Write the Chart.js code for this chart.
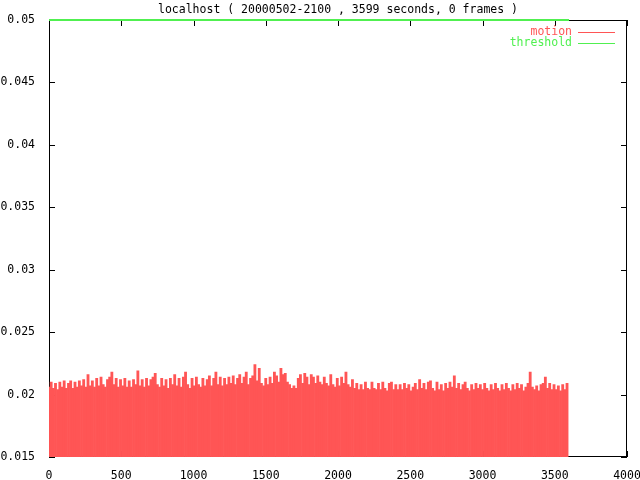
<!DOCTYPE html>
<html>
<head>
<meta charset="utf-8">
<script src="https://cdn.jsdelivr.net/npm/chart.js@4/dist/chart.umd.min.js"></script>
<style>
  html, body { margin: 0; padding: 0; background: #fff; }
  #wrap { width: 640px; height: 480px; }
</style>
</head>
<body>
<div id="wrap"><canvas id="motionChart" width="640" height="480"></canvas></div>
<script>
// one sample every 15 seconds
const STEP = 15;
const motion = [
  // 0 - 600
  0.0206, 0.0210, 0.0205, 0.0209, 0.0204, 0.0210, 0.0206, 0.0211, 0.0205, 0.0209,
  0.0211, 0.0205, 0.0210, 0.0206, 0.0211, 0.0207, 0.0212, 0.0206, 0.0216, 0.0207,
  0.0211, 0.0206, 0.0213, 0.0207, 0.0214, 0.0208, 0.0206, 0.0212, 0.0214, 0.0218,
  0.0208, 0.0213, 0.0206, 0.0212, 0.0207, 0.0213, 0.0206, 0.0211, 0.0206, 0.0212,
  0.0208,
  // 615 - 1200
  0.0219, 0.0207, 0.0212, 0.0206, 0.0213, 0.0207, 0.0212, 0.0214, 0.0217, 0.0208,
  0.0206, 0.0213, 0.0207, 0.0212, 0.0205, 0.0213, 0.0208, 0.0216, 0.0207, 0.0213,
  0.0206, 0.0214, 0.0218, 0.0208, 0.0205, 0.0213, 0.0207, 0.0214, 0.0208, 0.0206,
  0.0213, 0.0207, 0.0212, 0.0215, 0.0207, 0.0213, 0.0218, 0.0208, 0.0214, 0.0207,
  // 1215 - 1815
  0.0213, 0.0208, 0.0214, 0.0209, 0.0215, 0.0208, 0.0213, 0.0216, 0.0209, 0.0214,
  0.0218, 0.0208, 0.0213, 0.0215, 0.0224, 0.0211, 0.0221, 0.0209, 0.0207, 0.0213,
  0.0208, 0.0214, 0.0209, 0.0218, 0.0215, 0.0210, 0.0221, 0.0216, 0.0217, 0.0210,
  0.0208, 0.0205, 0.0207, 0.0205, 0.0213, 0.0216, 0.0209, 0.0217, 0.0214, 0.0208,
  0.0216,
  // 1830 - 2415
  0.0214, 0.0209, 0.0215, 0.0210, 0.0208, 0.0214, 0.0209, 0.0207, 0.0216, 0.0208,
  0.0206, 0.0213, 0.0207, 0.0214, 0.0209, 0.0218, 0.0208, 0.0206, 0.0212, 0.0205,
  0.0209, 0.0204, 0.0208, 0.0204, 0.0210, 0.0205, 0.0204, 0.0210, 0.0205, 0.0204,
  0.0209, 0.0204, 0.0210, 0.0205, 0.0203, 0.0209, 0.0210, 0.0204, 0.0208, 0.0204,
  // 2430 - 3015
  0.0208, 0.0204, 0.0209, 0.0205, 0.0208, 0.0203, 0.0206, 0.0209, 0.0204, 0.0212,
  0.0205, 0.0209, 0.0204, 0.0210, 0.0211, 0.0205, 0.0203, 0.0210, 0.0204, 0.0208,
  0.0203, 0.0209, 0.0205, 0.0210, 0.0206, 0.0215, 0.0205, 0.0209, 0.0204, 0.0208,
  0.0210, 0.0205, 0.0203, 0.0208, 0.0204, 0.0209, 0.0205, 0.0208, 0.0204, 0.0209,
  // 3030 - 3585
  0.0205, 0.0203, 0.0208, 0.0204, 0.0209, 0.0205, 0.0203, 0.0208, 0.0204, 0.0209,
  0.0205, 0.0203, 0.0208, 0.0204, 0.0209, 0.0205, 0.0208, 0.0203, 0.0206, 0.0209,
  0.0218, 0.0206, 0.0204, 0.0207, 0.0203, 0.0208, 0.0209, 0.0214, 0.0205, 0.0209,
  0.0204, 0.0208, 0.0204, 0.0207, 0.0203, 0.0208, 0.0204, 0.0209
];
const thresholdTimes = [0, 3599];
const threshold = [0.05, 0.05];

const xTicks = [0, 500, 1000, 1500, 2000, 2500, 3000, 3500, 4000];
const yTicks = [0.015, 0.02, 0.025, 0.03, 0.035, 0.04, 0.045, 0.05];
const title = 'localhost ( 20000502-2100 , 3599 seconds, 0 frames )';

const RED = 'rgb(255,85,85)';
const GREEN = 'rgb(80,240,80)';
const FONT = { family: "'DejaVu Sans Mono', monospace", size: 11.5 };
const FONT_CSS = "11.5px 'DejaVu Sans Mono', monospace";

// gnuplot style frame with inward ticks on all sides
const framePlugin = {
  id: 'frame',
  beforeDatasetsDraw(chart) {
    const { ctx, chartArea: a, scales } = chart;
    ctx.save();
    ctx.strokeStyle = '#000';
    ctx.lineWidth = 1;
    ctx.strokeRect(a.left + 0.5, a.top + 0.5, a.right - a.left - 1, a.bottom - a.top - 1);
    ctx.beginPath();
    xTicks.forEach(v => {
      const px = Math.round(scales.x.getPixelForValue(v)) + 0.5;
      ctx.moveTo(px, a.bottom); ctx.lineTo(px, a.bottom - 6);
      ctx.moveTo(px, a.top); ctx.lineTo(px, a.top + 6);
    });
    yTicks.forEach(v => {
      const py = Math.round(scales.y.getPixelForValue(v)) + 0.5;
      ctx.moveTo(a.left, py); ctx.lineTo(a.left + 6, py);
      ctx.moveTo(a.right, py); ctx.lineTo(a.right - 6, py);
    });
    ctx.stroke();
    ctx.restore();
  },
  afterDraw(chart) {
    const { ctx, chartArea: a } = chart;
    ctx.save();
    ctx.font = FONT_CSS;
    ctx.textBaseline = 'middle';
    // title centred over the plot area
    ctx.fillStyle = '#000';
    ctx.textAlign = 'center';
    ctx.fillText(title, (a.left + a.right) / 2, 10);
    // key in the top right corner: label, then a line sample
    ctx.textAlign = 'right';
    chart.data.datasets.forEach((ds, i) => {
      const y = 32 + i * 11;
      ctx.fillStyle = ds.borderColor;
      ctx.fillText(ds.label, 572, y);
      ctx.strokeStyle = ds.borderColor;
      ctx.lineWidth = 1;
      ctx.beginPath();
      ctx.moveTo(578, y + 0.5); ctx.lineTo(615, y + 0.5);
      ctx.stroke();
    });
    ctx.restore();
  }
};

new Chart(document.getElementById('motionChart'), {
  type: 'bar',
  data: {
    datasets: [
      {
        label: 'motion',
        data: motion.map((v, i) => ({ x: i * STEP, y: v })),
        backgroundColor: RED,
        borderColor: RED,
        borderWidth: 0,
        barPercentage: 1,
        categoryPercentage: 1,
        order: 2
      },
      {
        type: 'line',
        label: 'threshold',
        data: thresholdTimes.map((t, i) => ({ x: t, y: threshold[i] })),
        borderColor: GREEN,
        borderWidth: 2,
        pointRadius: 0,
        clip: false,
        order: 1
      }
    ]
  },
  options: {
    responsive: false,
    animation: false,
    layout: { padding: { left: 0, right: 13, top: 20, bottom: 0 } },
    plugins: {
      legend: { display: false },
      tooltip: { enabled: false },
      title: { display: false }
    },
    scales: {
      x: {
        type: 'linear',
        min: 0,
        max: 4000,
        offset: false,
        grid: { display: false },
        border: { display: false },
        afterBuildTicks: s => { s.ticks = xTicks.map(v => ({ value: v })); },
        afterFit: s => { s.height = 23; s.paddingLeft = 0; s.paddingRight = 0; },
        ticks: { color: '#000', font: FONT, padding: 4, maxRotation: 0, callback: v => String(v) }
      },
      y: {
        min: 0.015,
        max: 0.05,
        grid: { display: false },
        border: { display: false },
        afterBuildTicks: s => { s.ticks = yTicks.map(v => ({ value: v })); },
        afterFit: s => { s.width = 49; s.paddingTop = 0; s.paddingBottom = 0; },
        ticks: {
          color: '#000',
          font: FONT,
          padding: 6,
          callback: v => String(+v.toFixed(3))
        }
      }
    }
  },
  plugins: [framePlugin]
});
</script>
</body>
</html>
